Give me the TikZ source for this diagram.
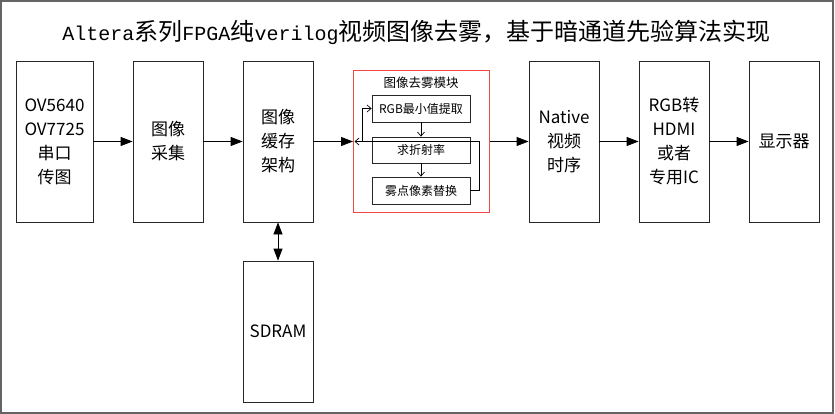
\documentclass[tikz,border=0pt]{standalone}
\usepackage{fontspec}
\setmainfont{Noto Sans CJK SC}
\newfontfamily\cjkfont{Noto Sans CJK SC}
\newfontfamily\latmono{Liberation Mono}
\usetikzlibrary{arrows.meta}
\newcommand{\tlat}[1]{{\fontsize{20}{24}\selectfont\latmono #1}}
\definecolor{framegray}{RGB}{100,100,100}
\definecolor{modred}{RGB}{245,70,70}
\begin{document}
\begin{tikzpicture}[x=1pt,y=-1pt,
  blk/.style={draw=black!85, line width=0.8pt, minimum width=70pt, minimum height=161pt,
    inner sep=0pt, align=center, font=\fontsize{17}{24}\selectfont},
  sub/.style={draw=black!85, line width=0.8pt, minimum width=98pt, minimum height=27pt,
    inner sep=0pt, align=center, font=\fontsize{12}{14}\selectfont},
  big/.style={-{Triangle[length=12pt,width=9pt]}, line width=0.8pt},
  small/.style={-{Straight Barb[length=4pt,width=7pt]}, line width=0.7pt},
  thinl/.style={line width=0.8pt}
]
\useasboundingbox (0,0) rectangle (835,414);
\draw[framegray, line width=1.5pt] (1,1) rectangle (833,413);

\node (title) at (416.5,32) {\fontsize{24}{28}\selectfont\tlat{Altera}系列\tlat{FPGA}纯\tlat{verilog}视频图像去雾，基于暗通道先验算法实现};

\node[blk, minimum width=77pt] (cam) at (54.5,141.5) {OV5640\\OV7725\\串口\\传图};
\node[blk] (cap) at (168,141.5) {图像\\采集};
\node[blk] (buf) at (278,141.5) {图像\\缓存\\架构};
\node[blk, minimum height=141pt] (sdram) at (278,331.5) {SDRAM};
\node[blk] (nat) at (564,141.5) {Native\\视频\\时序};
\node[blk] (hdmi) at (674,141.5) {RGB转\\HDMI\\或者\\专用IC};
\node[blk] (disp) at (784,141.5) {显示器};

\node[draw=modred, line width=0.9pt, minimum width=136pt, minimum height=142pt, inner sep=0pt] (mod) at (421.5,141.5) {};
\node[font=\fontsize{12.5}{14}\selectfont] (modt) at (421,82.5) {图像去雾模块};
\node[sub] (sa) at (421,108.5) {RGB最小值提取};
\node[sub, minimum height=26pt] (sb) at (421,150) {求折射率};
\node[sub] (sc) at (421,190.5) {雾点像素替换};

\coordinate (fbr) at (479,141.5);
\coordinate (fbl) at (354.5,141.5);
\coordinate (fbv) at (362,141.5);

\draw[big] (cam) -- (cap);
\draw[big] (cap) -- (buf);
\draw[big] (buf) -- (mod);
\draw[big] (mod) -- (nat);
\draw[big] (nat) -- (hdmi);
\draw[big] (hdmi) -- (disp);
\draw[{Triangle[length=12pt,width=9pt]}-{Triangle[length=12pt,width=9pt]}, line width=0.8pt] (buf) -- (sdram);

\draw[small] (sa) -- (sb);
\draw[small] (sb) -- (sc);
\draw[thinl] (sc.east) -| (fbr);
\draw[small] (fbr) -- (fbl);
\draw[small] (fbv) |- (sa.west);
\end{tikzpicture}
\end{document}
